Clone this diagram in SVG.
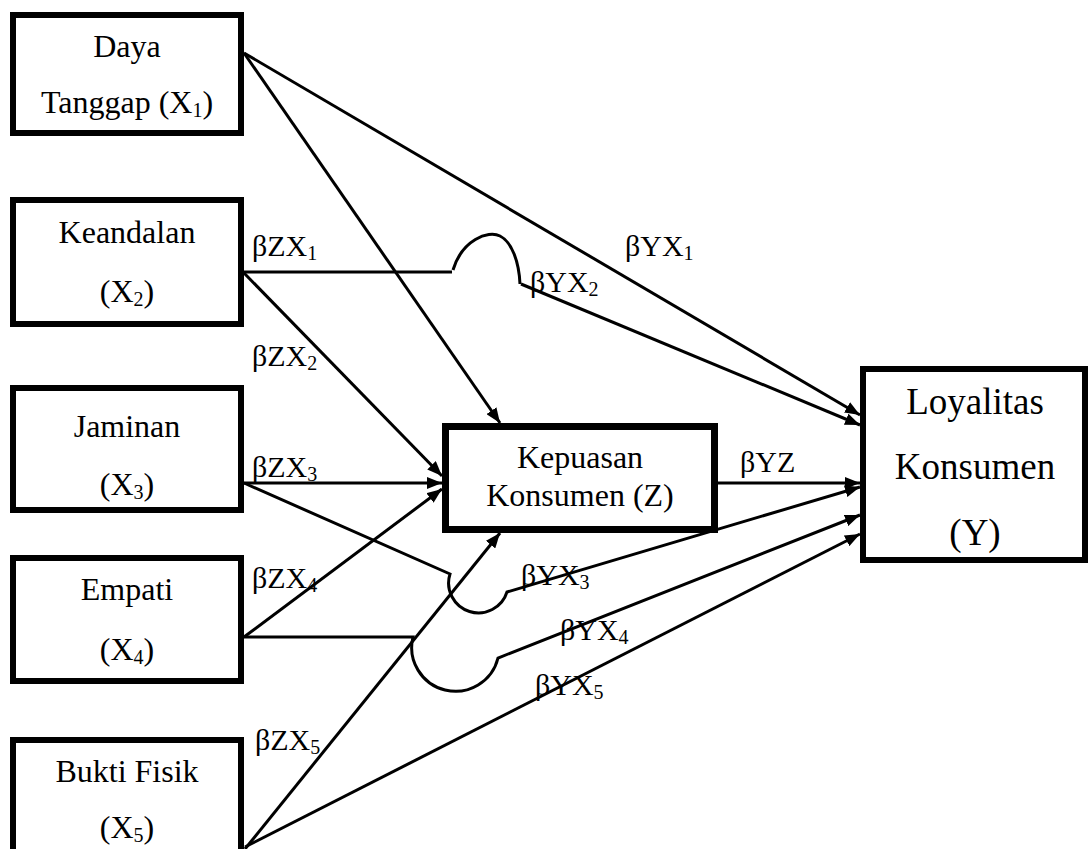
<svg xmlns="http://www.w3.org/2000/svg" width="1090" height="849" viewBox="0 0 1090 849">
<style>
text{font-family:'Liberation Serif','Times New Roman',Tinos,'DejaVu Serif',serif;fill:#000}
.box{fill:#fff;stroke:#000;stroke-width:6}
.t{font-size:32px;text-anchor:middle}
.ty{font-size:37px;text-anchor:middle}
.lb{font-size:30px}
.sub{font-size:20px}
.c{fill:none;stroke:#000;stroke-width:3}
</style>
<defs>
<marker id="ah" markerUnits="userSpaceOnUse" markerWidth="16" markerHeight="12" refX="15" refY="6" orient="auto">
<path d="M0,0 L15,6 L0,12 z" fill="#000"/>
</marker>
</defs>
<rect width="1090" height="849" fill="#fff"/>
<g id="connectors">
<line class="c" x1="244" y1="53" x2="860" y2="415" marker-end="url(#ah)"/>
<line class="c" x1="244" y1="53" x2="500" y2="423" marker-end="url(#ah)"/>
<path class="c" d="M244,272 L452,272 M453,270 C462,240 488,230 500,236 C512,242 519,262 520,284"/>
<line class="c" x1="521" y1="284" x2="860" y2="425" marker-end="url(#ah)"/>
<line class="c" x1="244" y1="273" x2="442" y2="476" marker-end="url(#ah)"/>
<line class="c" x1="244" y1="483" x2="442" y2="483" marker-end="url(#ah)"/>
<path class="c" d="M244,483 L450,574 A29,29 0 1 0 507,592 L860,487" marker-end="url(#ah)"/>
<line class="c" x1="244" y1="637" x2="442" y2="489" marker-end="url(#ah)"/>
<path class="c" d="M244,637 L413,637 A43,43 0 0 0 498,658 L860,515" marker-end="url(#ah)"/>
<line class="c" x1="245" y1="849" x2="500" y2="533" marker-end="url(#ah)"/>
<line class="c" x1="245" y1="847" x2="860" y2="534" marker-end="url(#ah)"/>
<line class="c" x1="718" y1="483" x2="860" y2="483" marker-end="url(#ah)"/>
</g>
<g id="x1">
<rect class="box" x="13" y="15" width="228" height="118"/>
<text class="t" x="127" y="57">Daya</text>
<text class="t" x="127" y="113">Tanggap (X<tspan class="sub" dy="4">1</tspan><tspan dy="-4">)</tspan></text>
</g>
<g id="x2">
<rect class="box" x="13" y="200" width="228" height="124"/>
<text class="t" x="127" y="243">Keandalan</text>
<text class="t" x="127" y="302">(X<tspan class="sub" dy="4">2</tspan><tspan dy="-4">)</tspan></text>
</g>
<g id="x3">
<rect class="box" x="13" y="388" width="228" height="122"/>
<text class="t" x="127" y="437">Jaminan</text>
<text class="t" x="127" y="495">(X<tspan class="sub" dy="4">3</tspan><tspan dy="-4">)</tspan></text>
</g>
<g id="x4">
<rect class="box" x="13" y="558" width="228" height="123"/>
<text class="t" x="127" y="600">Empati</text>
<text class="t" x="127" y="660">(X<tspan class="sub" dy="4">4</tspan><tspan dy="-4">)</tspan></text>
</g>
<g id="x5">
<rect class="box" x="13" y="740" width="228" height="130"/>
<text class="t" x="127" y="782">Bukti Fisik</text>
<text class="t" x="127" y="838">(X<tspan class="sub" dy="4">5</tspan><tspan dy="-4">)</tspan></text>
</g>
<g id="z">
<rect class="box" x="445.5" y="426.5" width="269" height="103" style="stroke-width:7"/>
<text class="t" x="580" y="468">Kepuasan</text>
<text class="t" x="580" y="506">Konsumen (Z)</text>
</g>
<g id="y">
<rect class="box" x="863" y="369" width="222" height="191"/>
<text class="ty" x="975" y="414">Loyalitas</text>
<text class="ty" x="975" y="479">Konsumen</text>
<text class="ty" x="975" y="545">(Y)</text>
</g>
<g id="labels">
<text class="lb" x="252" y="256">βZX<tspan class="sub" dy="4">1</tspan></text>
<text class="lb" x="252" y="366">βZX<tspan class="sub" dy="4">2</tspan></text>
<text class="lb" x="252" y="477">βZX<tspan class="sub" dy="4">3</tspan></text>
<text class="lb" x="252" y="588">βZX<tspan class="sub" dy="4">4</tspan></text>
<text class="lb" x="255" y="750">βZX<tspan class="sub" dy="4">5</tspan></text>
<text class="lb" x="625" y="256">βYX<tspan class="sub" dy="4">1</tspan></text>
<text class="lb" x="530" y="292">βYX<tspan class="sub" dy="4">2</tspan></text>
<text class="lb" x="740" y="472">βYZ</text>
<text class="lb" x="521" y="585">βYX<tspan class="sub" dy="4">3</tspan></text>
<text class="lb" x="560" y="640">βYX<tspan class="sub" dy="4">4</tspan></text>
<text class="lb" x="535" y="695">βYX<tspan class="sub" dy="4">5</tspan></text>
</g>
</svg>
